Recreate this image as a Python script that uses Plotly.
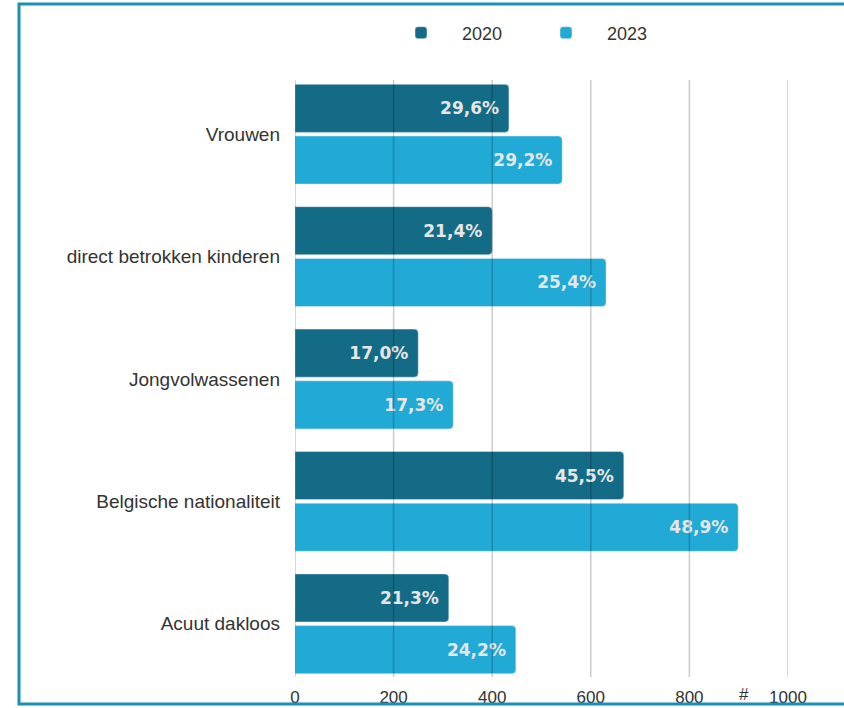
import plotly.graph_objects as go

categories = ['Vrouwen', 'direct betrokken kinderen', 'Jongvolwassenen',
              'Belgische nationaliteit', 'Acuut dakloos']
aantal_2020 = [434, 400, 250, 667, 312]
aantal_2023 = [542, 631, 321, 899, 448]
pct_2020 = ['29,6%', '21,4%', '17,0%', '45,5%', '21,3%']
pct_2023 = ['29,2%', '25,4%', '17,3%', '48,9%', '24,2%']
tick_vals = [0, 200, 400, 600, 800, 1000]
tick_text = ['0', '200', '400', '600', '800', '1000']

DARK = '#136b86'
LIGHT = '#21aad6'

# plot area in pixels (used to place the frame/legend in paper coords)
L, R, T, B = 295, 788, 73, 685
def px_x(x):
    return (x - L) / (R - L)
def px_y(y):
    return (B - y) / (B - T)

fig = go.Figure()
fig.add_trace(go.Bar(y=categories, x=aantal_2020, orientation='h', name='2020',
                     marker_color=DARK, text=[t + '\u00a0' for t in pct_2020],
                     textposition='inside', insidetextanchor='end'))
fig.add_trace(go.Bar(y=categories, x=aantal_2023, orientation='h', name='2023',
                     marker_color=LIGHT, text=[t + '\u00a0' for t in pct_2023],
                     textposition='inside', insidetextanchor='end'))

fig.update_traces(textfont=dict(family='DejaVu Sans', size=17, color='#e6e6e6', weight='bold'),
                  cliponaxis=False)

# grid lines sit on top of the bars
shapes = []
for v in tick_vals:
    shapes.append(dict(type='line', xref='x', yref='paper', x0=v, x1=v,
                       y0=px_y(677), y1=px_y(80), layer='above',
                       line=dict(color='rgba(0,0,0,0.2)', width=1.5)))
# blue frame
shapes.append(dict(type='rect', xref='paper', yref='paper',
                   x0=px_x(19), x1=px_x(852), y0=px_y(704), y1=px_y(4),
                   line=dict(color='#1c8fb3', width=3)))

fig.update_layout(
    width=844, height=708,
    margin=dict(l=L, r=844 - R, t=T, b=708 - B, autoexpand=False),
    paper_bgcolor='white', plot_bgcolor='white',
    barmode='group', bargap=0.155, bargroupgap=0.07, barcornerradius=4,
    font=dict(family='Liberation Sans', size=16, color='#333'),
    shapes=shapes,
    legend=dict(orientation='h', x=px_x(380), y=px_y(33), xanchor='left', yanchor='middle',
                itemwidth=72, entrywidth=58, font=dict(size=18)),
    xaxis=dict(range=[0, 1000], tickvals=tick_vals, ticktext=tick_text,
               showgrid=False, zeroline=False, showline=False, ticks='',
               automargin=False, tickfont=dict(size=17)),
    yaxis=dict(autorange='reversed', showgrid=False, showline=False, ticks='',
               automargin=False, ticklabelstandoff=14, tickfont=dict(size=19)),
    annotations=[dict(text='#', xref='paper', yref='paper', x=px_x(751), y=px_y(694),
                      yanchor='middle', showarrow=False, font=dict(size=17, color='#333'))],
)

fig.write_html('out.html', config={'displayModeBar': False},
               post_script="document.documentElement.style.margin='0';"
                           "document.body.style.margin='0';window.scrollTo(0,0);")
